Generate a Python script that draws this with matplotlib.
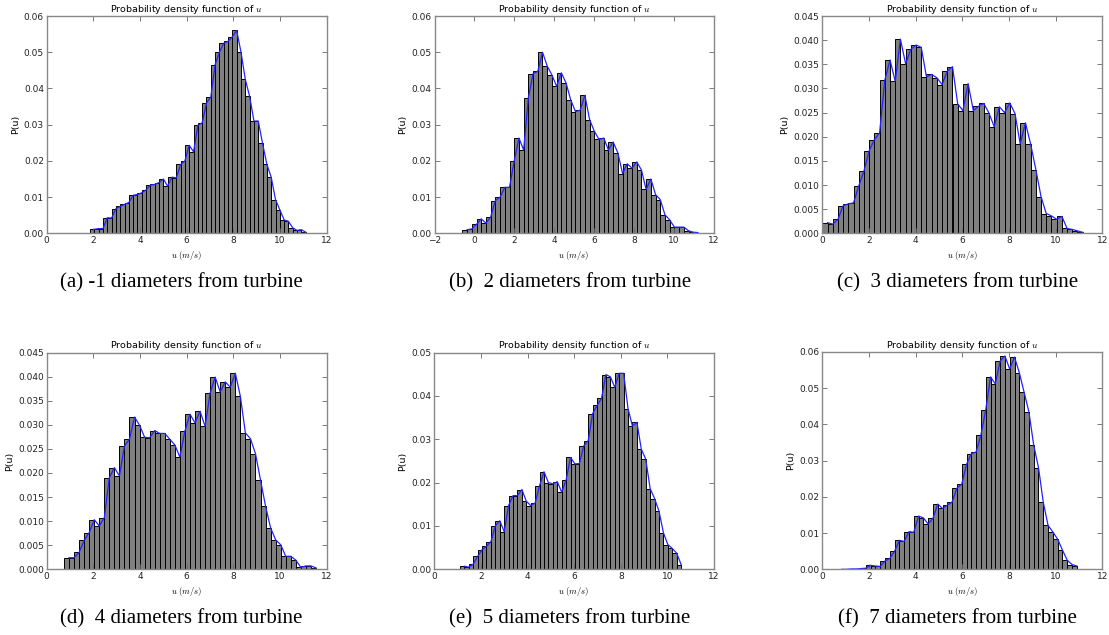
import matplotlib
matplotlib.use('Agg')
import matplotlib.pyplot as plt
import numpy as np

plt.rcParams['mathtext.fontset'] = 'cm'
plt.rcParams['font.family'] = 'DejaVu Sans'

# probability per bin (50 bins each)
p_m1 = [0.0011, 0.0013, 0.0013, 0.0043, 0.0042, 0.0068, 0.0074, 0.0080, 0.0085, 0.0105,
        0.0107, 0.0112, 0.0120, 0.0133, 0.0135, 0.0140, 0.0150, 0.0130, 0.0155, 0.0153,
        0.0190, 0.0200, 0.0243, 0.0225, 0.0298, 0.0305, 0.0360, 0.0376, 0.0466, 0.0500,
        0.0525, 0.0530, 0.0543, 0.0560, 0.0500, 0.0425, 0.0378, 0.0310, 0.0310, 0.0248,
        0.0190, 0.0155, 0.0093, 0.0065, 0.0037, 0.0033, 0.0015, 0.0008, 0.0010, 0.0003]
p_2 = [0.0010, 0.0012, 0.0025, 0.0040, 0.0028, 0.0045, 0.0090, 0.0100, 0.0127, 0.0127,
       0.0200, 0.0263, 0.0230, 0.0374, 0.0441, 0.0447, 0.0500, 0.0462, 0.0437, 0.0406,
       0.0443, 0.0415, 0.0368, 0.0336, 0.0340, 0.0381, 0.0314, 0.0282, 0.0259, 0.0263,
       0.0230, 0.0252, 0.0222, 0.0165, 0.0192, 0.0180, 0.0197, 0.0175, 0.0121, 0.0150,
       0.0107, 0.0093, 0.0051, 0.0037, 0.0017, 0.0017, 0.0017, 0.0007, 0.0003, 0.0002]
p_3 = [0.0022, 0.0019, 0.0029, 0.0057, 0.0061, 0.0063, 0.0098, 0.0129, 0.0171, 0.0194,
       0.0208, 0.0317, 0.0359, 0.0315, 0.0402, 0.0351, 0.0381, 0.0390, 0.0385, 0.0324,
       0.0329, 0.0322, 0.0308, 0.0336, 0.0345, 0.0268, 0.0254, 0.0310, 0.0254, 0.0263,
       0.0269, 0.0249, 0.0221, 0.0262, 0.0250, 0.0270, 0.0248, 0.0185, 0.0229, 0.0185,
       0.0132, 0.0076, 0.0041, 0.0036, 0.0029, 0.0035, 0.0010, 0.0008, 0.0005, 0.0002]
p_4 = [0.0024, 0.0024, 0.0035, 0.0060, 0.0076, 0.0103, 0.0090, 0.0107, 0.0190, 0.0211,
       0.0194, 0.0256, 0.0270, 0.0316, 0.0299, 0.0274, 0.0273, 0.0288, 0.0282, 0.0282,
       0.0270, 0.0258, 0.0233, 0.0287, 0.0322, 0.0304, 0.0328, 0.0297, 0.0366, 0.0399,
       0.0368, 0.0389, 0.0378, 0.0407, 0.0359, 0.0283, 0.0271, 0.0240, 0.0185, 0.0131,
       0.0086, 0.0061, 0.0051, 0.0027, 0.0027, 0.0019, 0.0004, 0.0007, 0.0007, 0.0003]
p_5 = [0.0007, 0.0005, 0.0012, 0.0030, 0.0045, 0.0053, 0.0064, 0.0100, 0.0112, 0.0087,
       0.0147, 0.0170, 0.0170, 0.0184, 0.0157, 0.0147, 0.0153, 0.0193, 0.0225, 0.0200,
       0.0197, 0.0202, 0.0178, 0.0206, 0.0258, 0.0243, 0.0244, 0.0285, 0.0297, 0.0359,
       0.0378, 0.0394, 0.0449, 0.0444, 0.0420, 0.0452, 0.0452, 0.0370, 0.0330, 0.0339,
       0.0277, 0.0254, 0.0186, 0.0163, 0.0134, 0.0084, 0.0057, 0.0048, 0.0037, 0.0011]
p_7 = [0.0000, 0.0000, 0.0001, 0.0001, 0.0002, 0.0003, 0.0011, 0.0009, 0.0008, 0.0023,
       0.0030, 0.0050, 0.0080, 0.0077, 0.0104, 0.0102, 0.0147, 0.0142, 0.0125, 0.0141,
       0.0180, 0.0168, 0.0177, 0.0186, 0.0224, 0.0235, 0.0290, 0.0319, 0.0324, 0.0371,
       0.0440, 0.0531, 0.0512, 0.0575, 0.0589, 0.0553, 0.0586, 0.0543, 0.0489, 0.0435,
       0.0343, 0.0281, 0.0185, 0.0121, 0.0103, 0.0083, 0.0053, 0.0025, 0.0013, 0.0009]

# data range (min, max of u) for each panel
u_range = [(1.857, 11.10), (-0.60, 11.22), (0.0, 11.16),
           (0.74, 11.54), (1.10, 10.59), (0.63, 10.91)]
probs = [p_m1, p_2, p_3, p_4, p_5, p_7]
xlims = [(0, 12), (-2, 12), (0, 12), (0, 12), (0, 12), (0, 12)]
ylims = [(0, 0.06), (0, 0.06), (0, 0.045), (0, 0.045), (0, 0.05), (0, 0.06)]
ysteps = [0.01, 0.01, 0.005, 0.005, 0.01, 0.01]
captions = ['(a) -1 diameters from turbine', '(b)  2 diameters from turbine',
            '(c)  3 diameters from turbine', '(d)  4 diameters from turbine',
            '(e)  5 diameters from turbine', '(f)  7 diameters from turbine']

W, H = 1109, 635
fig = plt.figure(figsize=(W / 100, H / 100), dpi=100)

# axes boxes in pixels: left, top, right, bottom
boxes = [(46.7, 16, 326.7, 233.3), (434.5, 16, 713.5, 233.3), (822.3, 16, 1102.3, 233.3),
         (46.7, 352.5, 326.7, 569.3), (434.3, 352.5, 714, 569.3), (822.3, 352, 1102.3, 569.3)]
cap_pos = [(181.5, 283), (570, 283), (957.5, 283), (181.5, 619), (569.5, 619), (957.5, 619)]

fs = 6.5
for i in range(6):
    l, t, r, b = boxes[i]
    ax = fig.add_axes([l / W, 1 - b / H, (r - l) / W, (b - t) / H])
    lo, hi = u_range[i]
    edges = np.linspace(lo, hi, len(probs[i]) + 1)
    ax.hist(edges[:-1], bins=edges, weights=probs[i], color='#808080',
            edgecolor='black', linewidth=0.7)
    ax.plot(edges[1:], probs[i], color='#2222ff', linewidth=0.9)
    ax.set_xlim(*xlims[i])
    ax.set_ylim(*ylims[i])
    ax.set_xticks(np.arange(xlims[i][0], xlims[i][1] + 0.1, 2))
    ax.set_yticks(np.arange(0, ylims[i][1] + 1e-9, ysteps[i]))
    ax.tick_params(direction='in', top=True, right=True, length=3.5, width=0.6,
                   labelsize=fs, pad=2, color='#666666', labelcolor='#222222')
    for sp in ax.spines.values():
        sp.set_linewidth(1.0)
        sp.set_color('#888888')
    ax.set_title('Probability density function of $u$', fontsize=fs + 0.3, pad=3)
    ax.set_ylabel('P(u)', fontsize=fs + 0.3, labelpad=3)
    ax.set_xlabel('$u$ $(m/s)$', fontsize=fs - 0.3, labelpad=3)
    cx, cy = cap_pos[i]
    fig.text(cx / W, 1 - cy / H, captions[i], ha='center', va='center',
             fontsize=15, family='Liberation Serif')

fig.savefig('out.png', dpi=100)
